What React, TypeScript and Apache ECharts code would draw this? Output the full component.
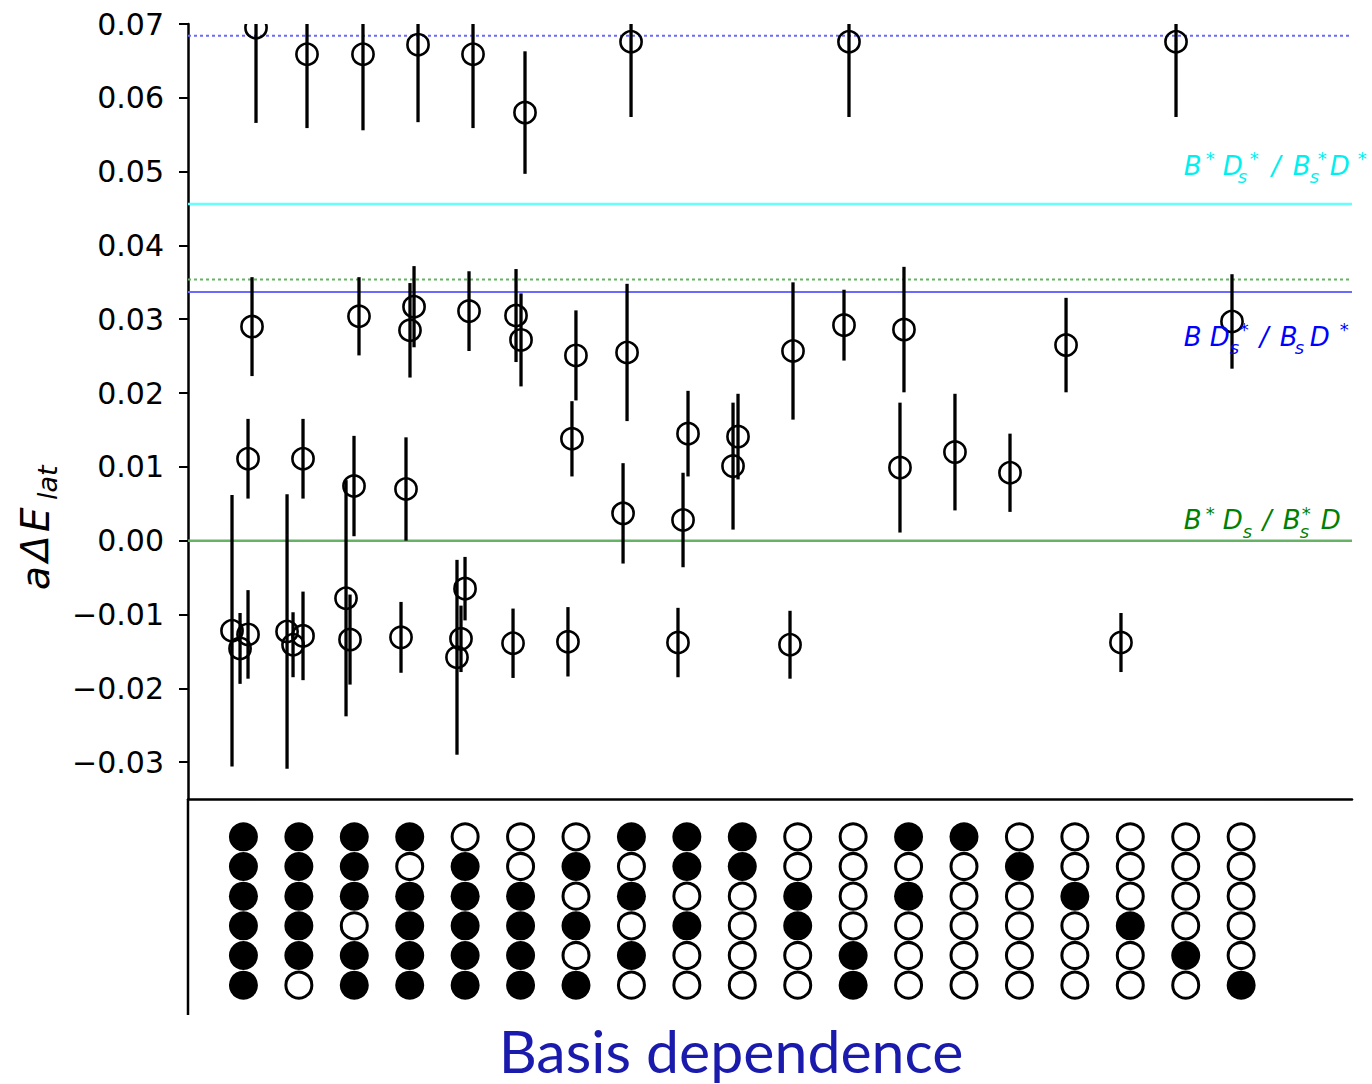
import React, { useEffect, useRef } from "react";
import * as echarts from "echarts";

// ---------------- data ----------------
const Y_MIN = -0.035;
const Y_MAX = 0.07;
const Y_TICKS = [-0.03, -0.02, -0.01, 0.0, 0.01, 0.02, 0.03, 0.04, 0.05, 0.06, 0.07];
const X_MIN = -1;
const X_MAX = 20;

// 19 basis choices (columns), 6 operators (rows, top to bottom); 1 = operator included
const BASIS_COLUMNS = [0, 1, 2, 3, 4, 5, 6, 7, 8, 9, 10, 11, 12, 13, 14, 15, 16, 17, 18];
const BASIS_ROWS = [0, 1, 2, 3, 4, 5];
const BASIS_MATRIX = [
  [1, 1, 1, 1, 1, 1],
  [1, 1, 1, 1, 1, 0],
  [1, 1, 1, 0, 1, 1],
  [1, 0, 1, 1, 1, 1],
  [0, 1, 1, 1, 1, 1],
  [0, 0, 1, 1, 1, 1],
  [0, 1, 0, 1, 0, 1],
  [1, 0, 1, 0, 1, 0],
  [1, 1, 0, 1, 0, 0],
  [1, 1, 0, 0, 0, 0],
  [0, 0, 1, 1, 0, 0],
  [0, 0, 0, 0, 1, 1],
  [1, 0, 1, 0, 0, 0],
  [1, 0, 0, 0, 0, 0],
  [0, 1, 0, 0, 0, 0],
  [0, 0, 1, 0, 0, 0],
  [0, 0, 0, 1, 0, 0],
  [0, 0, 0, 0, 1, 0],
  [0, 0, 0, 0, 0, 1],
];

// energy levels: x position (basis column + small shift), value, error
const POINT_X = [
  0.227, 0.155, 0.083, -0.206, 0.083, -0.061,
  1.147, 1.075, 0.787, 1.075, 0.895,
  2.157, 2.085, 1.995, 1.851, 1.923,
  3.15, 3.078, 3.005, 2.933, 2.843,
  4.142, 4.07, 3.998, 3.925, 3.853,
  5.08, 4.918, 5.008, 4.864,
  5.999, 5.927, 5.855,
  6.993, 6.921, 6.849,
  8.021, 7.931, 7.84,
  8.923, 8.833,
  9.915, 9.861,
  10.925, 10.835,
  11.917, 11.845,
  12.837,
  13.83,
  14.841,
  15.832,
  16.825,
  17.835,
];
const POINT_Y = [
  0.0695, 0.029, 0.0111, -0.0122, -0.0127, -0.0146,
  0.0659, 0.0111, -0.0123, -0.0129, -0.0141,
  0.0659, 0.0304, 0.0074, -0.0078, -0.0134,
  0.0672, 0.0317, 0.0285, 0.007, -0.0131,
  0.0659, 0.0311, -0.0065, -0.0133, -0.0158,
  0.058, 0.0305, 0.0272, -0.0139,
  0.0251, 0.0138, -0.0137,
  0.0676, 0.0255, 0.0037,
  0.0145, 0.0028, -0.0138,
  0.0141, 0.0101,
  0.0257, -0.0141,
  0.0676, 0.0292,
  0.0286, 0.0099,
  0.012,
  0.0092,
  0.0265,
  -0.0138,
  0.0676,
  0.0297,
];
const POINT_ERR = [
  0.0129, 0.0067, 0.0054, 0.0184, 0.006, 0.0048,
  0.01, 0.0054, 0.0186, 0.006, 0.0044,
  0.0103, 0.0053, 0.0068, 0.016, 0.0061,
  0.0105, 0.0055, 0.0064, 0.007, 0.0048,
  0.01, 0.0054, 0.0043, 0.0045, 0.0132,
  0.0083, 0.0063, 0.0063, 0.0047,
  0.0061, 0.0051, 0.0047,
  0.0102, 0.0093, 0.0068,
  0.0058, 0.0064, 0.0047,
  0.0058, 0.0086,
  0.0093, 0.0046,
  0.0102, 0.0048,
  0.0085, 0.0088,
  0.0079,
  0.0053,
  0.0064,
  0.004,
  0.0102,
  0.0064,
];

// two-meson thresholds
const THRESHOLD_VALUES = [0.0684, 0.0456, 0.0354, 0.0337, 0.0];
const LABEL_X = 17;
const LABEL_BASE_VALUES = [0.04955, 0.0264, 0.0015];

// label glyphs: [text, kind]  (n = normal, sup, sub)
const LABEL_PARTS: [string, string][][] = [
  [["B", "n"], ["*", "sup"], ["D", "n"], ["s", "sub"], ["*", "sup"], ["/", "n"], ["B", "n"], ["s", "sub"], ["*", "sup"], ["D", "n"], ["*", "sup"]],
  [["B", "n"], ["D", "n"], ["s", "sub"], ["*", "sup"], ["/", "n"], ["B", "n"], ["s", "sub"], ["D", "n"], ["*", "sup"]],
  [["B", "n"], ["*", "sup"], ["D", "n"], ["s", "sub"], ["/", "n"], ["B", "n"], ["s", "sub"], ["*", "sup"], ["D", "n"]],
];
const X_TITLE = "Basis dependence";

// ---------------- layout / style ----------------
const GRID_LEFT = 188;
const GRID_TOP = 24;
const GRID_RIGHT = 20;
const GRID_BOTTOM = 285;
const LABEL_DX = [
  [0, 22, 39, 54, 66, 88, 109, 126, 134, 146, 174],
  [0, 26, 46, 56, 76, 96, 111, 126, 156],
  [0, 22, 39, 59, 79, 99, 116, 118, 137],
];
const THRESHOLD_STYLES = [
  { color: "#6a6aff", type: [3, 3] as any, width: 2 },
  { color: "#66ffff", type: "solid", width: 2.5 },
  { color: "#66b366", type: [3, 3] as any, width: 2 },
  { color: "#6a6aff", type: "solid", width: 2 },
  { color: "#66b366", type: "solid", width: 2.5 },
];
const LABEL_COLORS = ["#00f0f0", "#0000ff", "#008000"];

const fmt = (v: number) => {
  const s = Math.abs(v) < 1e-9 ? "0.00" : v.toFixed(2);
  return s.replace("-", "\u2212");
};

export default function App() {
  const ref = useRef<HTMLDivElement>(null);
  useEffect(() => {
    if (!ref.current) return;
    const chart = echarts.init(ref.current, undefined, { renderer: "svg" });

    const barData = POINT_X.map((x, i) => [x, POINT_Y[i], POINT_ERR[i]]);
    const pointData = POINT_X.map((x, i) => [x, POINT_Y[i]]);
    const filled: number[][] = [];
    const open: number[][] = [];
    BASIS_COLUMNS.forEach((c) => {
      BASIS_ROWS.forEach((r) => {
        (BASIS_MATRIX[c][r] ? filled : open).push([c, r]);
      });
    });

    const thresholdSeries = THRESHOLD_VALUES.map((v, i) => ({
      type: "line",
      xAxisIndex: 0,
      yAxisIndex: 0,
      z: 1,
      silent: true,
      showSymbol: false,
      symbol: "none",
      lineStyle: THRESHOLD_STYLES[i],
      data: [
        [X_MIN, v],
        [X_MAX, v],
      ],
    }));

    const option: any = {
      animation: false,
      backgroundColor: "#ffffff",
      grid: [
        { left: GRID_LEFT, top: GRID_TOP, right: GRID_RIGHT, bottom: GRID_BOTTOM },
        { left: GRID_LEFT, top: 822, right: GRID_RIGHT, height: 178 },
      ],
      xAxis: [
        {
          type: "value",
          gridIndex: 0,
          min: X_MIN,
          max: X_MAX,
          axisLine: { show: true, onZero: false, lineStyle: { color: "#000", width: 2.5 } },
          axisTick: { show: false },
          axisLabel: { show: false },
          splitLine: { show: false },
        },
        {
          type: "value",
          gridIndex: 1,
          min: X_MIN,
          max: X_MAX,
          show: false,
        },
      ],
      yAxis: [
        {
          type: "value",
          gridIndex: 0,
          min: Y_MIN,
          max: Y_MAX,
          axisLine: { show: true, onZero: false, lineStyle: { color: "#000", width: 2.5 } },
          axisTick: {
            show: true,
            customValues: Y_TICKS,
            length: 9,
            lineStyle: { color: "#000", width: 2 },
          },
          axisLabel: {
            show: true,
            customValues: Y_TICKS,
            formatter: (v: number) => fmt(v),
            fontSize: 30,
            fontFamily: "DejaVu Sans",
            color: "#000",
            margin: 24,
          },
          splitLine: { show: false },
        },
        {
          type: "value",
          gridIndex: 1,
          min: -0.5,
          max: 5.5,
          inverse: true,
          show: false,
        },
      ],
      series: [
        ...thresholdSeries,
        {
          type: "custom",
          xAxisIndex: 0,
          yAxisIndex: 0,
          clip: true,
          z: 3,
          silent: true,
          dimensions: ["x", "y", "err"],
          encode: { x: 0, y: 1 },
          data: barData,
          renderItem: (params: any, api: any) => {
            const x = api.value(0);
            const y = api.value(1);
            const e = api.value(2);
            const top = api.coord([x, Math.min(y + e, Y_MAX)]);
            const bot = api.coord([x, Math.max(y - e, Y_MIN)]);
            return {
              type: "line",
              shape: { x1: top[0], y1: top[1], x2: bot[0], y2: bot[1] },
              style: { stroke: "#000", lineWidth: 3.3 },
            };
          },
        },
        {
          type: "custom",
          xAxisIndex: 0,
          yAxisIndex: 0,
          clip: true,
          z: 4,
          silent: true,
          dimensions: ["x", "y"],
          encode: { x: 0, y: 1 },
          data: pointData,
          renderItem: (params: any, api: any) => {
            const c = api.coord([api.value(0), api.value(1)]);
            return {
              type: "circle",
              shape: { cx: c[0], cy: c[1], r: 10.6 },
              style: { fill: "none", stroke: "#000", lineWidth: 2.6 },
            };
          },
        },
        {
          type: "scatter",
          xAxisIndex: 1,
          yAxisIndex: 1,
          silent: true,
          symbol: "circle",
          symbolSize: 29,
          itemStyle: { color: "#000", opacity: 1 },
          data: filled,
        },
        {
          type: "scatter",
          xAxisIndex: 1,
          yAxisIndex: 1,
          silent: true,
          symbol: "circle",
          symbolSize: 26,
          itemStyle: { color: "#fff", borderColor: "#000", borderWidth: 3, opacity: 1 },
          data: open,
        },
      ],
    };
    chart.setOption(option);

    const toPx = (x: number, y: number) => chart.convertToPixel({ gridIndex: 0 }, [x, y]) as number[];
    const graphics: any[] = [];

    // spine extension below the plot
    const c0 = toPx(X_MIN, Y_MIN);
    graphics.push({
      type: "line",
      shape: { x1: c0[0], y1: c0[1], x2: c0[0], y2: 1015 },
      style: { stroke: "#000", lineWidth: 2.5 },
      z: 5,
    });

    // threshold labels
    const MAIN = 26;
    const SMALL = 18;
    LABEL_PARTS.forEach((parts, li) => {
      const p = toPx(LABEL_X, LABEL_BASE_VALUES[li]);
      parts.forEach(([t, kind], pi) => {
        const size = kind === "n" ? MAIN : SMALL;
        const shift = kind === "sup" ? -10 : kind === "sub" ? 8 : 0;
        graphics.push({
          type: "text",
          x: p[0] - 2 + LABEL_DX[li][pi],
          y: p[1] + shift - 0.35 * size,
          z: 10,
          silent: true,
          style: {
            text: t,
            fill: LABEL_COLORS[li],
            fontSize: size,
            fontFamily: "DejaVu Sans",
            fontStyle: "italic",
            align: "left",
            verticalAlign: "middle",
            textAlign: "left",
            textVerticalAlign: "middle",
          },
        });
      });
    });

    // y-axis title a ΔE_lat
    const yParts: [string, number, number, number][] = [
      ["a", -1, 39, 0],
      ["\u0394", 27, 39, 0],
      ["E", 57, 39, 0],
      ["lat", 89, 27, 8],
    ];
    graphics.push({
      type: "group",
      x: 49,
      y: 589,
      rotation: Math.PI / 2,
      z: 10,
      children: yParts.map(([t, dx, size, dy]) => ({
        type: "text",
        x: dx,
        y: dy - 0.35 * size,
        style: {
          text: t,
          fill: "#000",
          fontSize: size,
          fontFamily: "DejaVu Sans",
          fontStyle: "italic",
          align: "left",
          verticalAlign: "middle",
          textAlign: "left",
          textVerticalAlign: "middle",
        },
      })),
    });

    // x title
    graphics.push({
      type: "text",
      x: 731,
      y: 1074 - 0.39 * 59,
      z: 10,
      style: {
        text: X_TITLE,
        fill: "#1a1aad",
        fontSize: 59,
        fontFamily: "Lato",
        align: "center",
        verticalAlign: "middle",
        textAlign: "center",
        textVerticalAlign: "middle",
      },
    });

    chart.setOption({ graphic: graphics });

    return () => chart.dispose();
  }, []);

  return (
    <div
      ref={ref}
      style={{ position: "absolute", left: 0, top: 0, width: 1372, height: 1084, background: "#fff" }}
    />
  );
}
